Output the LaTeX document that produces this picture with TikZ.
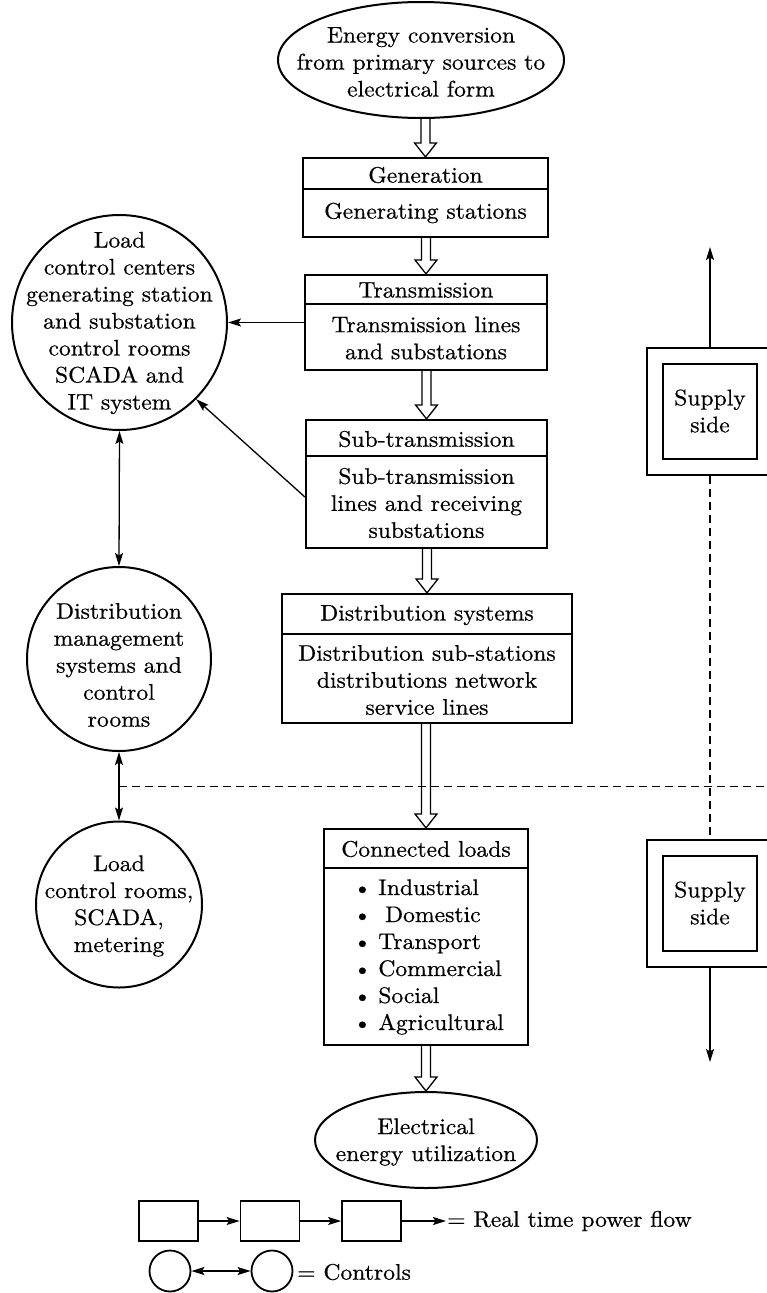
\documentclass[tikz,border=0pt]{standalone}
\usepackage{fontspec}
\setmainfont{lmroman10-regular}[Extension=.otf, FakeStretch=1.05, FakeBold=0.6]
\usetikzlibrary{shapes.geometric,arrows.meta,calc}

% open double-line arrow pointing down from #1 to #2
\newcommand\hollowflow[2]{%
  \draw[hollow] ($(#1)+(-4.5,0)$) -- ($(#2)+(-4.5,-14)$) -- ($(#2)+(-11,-14)$)
    -- (#2) -- ($(#2)+(11,-14)$) -- ($(#2)+(4.5,-14)$) -- ($(#1)+(4.5,0)$);}

\begin{document}
\begin{tikzpicture}[x=1pt, y=-1pt,
  txt/.style={inner sep=0pt, align=center, font=\fontsize{22.5}{27}\selectfont},
  blk/.style={draw, line width=2.2pt, inner sep=0pt, rectangle},
  div/.style={line width=1.3pt},
  hollow/.style={line width=1.3pt, line join=miter},
  ctl/.style={draw, circle, line width=2pt, inner sep=0pt},
  oval/.style={draw, ellipse, line width=2pt, inner sep=0pt},
  tip/.style={},
  link/.style={line width=1.3pt, -{Stealth[length=13pt,width=8pt,inset=2.5pt]}},
  both/.style={line width=1.3pt, {Stealth[length=13pt,width=8pt,inset=2.5pt]}-{Stealth[length=13pt,width=8pt,inset=2.5pt]}},
  dashline/.style={dash pattern=on 8pt off 5pt, line width=1.3pt},
  supout/.style={draw, line width=1.3pt, inner sep=0pt, minimum width=126pt, minimum height=127pt},
  supin/.style={draw, line width=2.5pt, inner sep=0pt, minimum width=94pt, minimum height=95pt},
  legbox/.style={draw, line width=1.8pt, inner sep=0pt, minimum width=59pt, minimum height=40pt},
  legdot/.style={draw, circle, line width=1.8pt, inner sep=0pt, minimum size=41pt}]

\fill[white] (0,0) rectangle (767,1293);
\useasboundingbox (0,0) rectangle (767,1293);
\clip (0,0) rectangle (767,1293);

% ---------- main power-flow chain ----------
\node[oval, minimum width=286pt, minimum height=116pt] (src) at (421,60) {};
\node[txt] (srct) at (421,62) {Energy conversion\\from primary sources to\\electrical form};

\node[blk, minimum width=245pt, minimum height=79pt] (gen) at (425.5,197.5) {};
\draw[div] ($(gen.north west)+(0,32)$) -- ($(gen.north east)+(0,32)$);
\node[txt] (genh) at (425.5,175) {Generation};
\node[txt] (genb) at (425.5,213) {Generating stations};

\node[blk, minimum width=242pt, minimum height=95pt] (trn) at (426,322.5) {};
\draw[div] ($(trn.north west)+(0,30)$) -- ($(trn.north east)+(0,30)$);
\node[txt] (trnh) at (426,290) {Transmission};
\node[txt] (trnb) at (426,338) {Transmission lines\\and substations};

\node[blk, minimum width=241pt, minimum height=128pt] (sub) at (426.5,484) {};
\draw[div] ($(sub.north west)+(0,37)$) -- ($(sub.north east)+(0,37)$);
\node[txt] (subh) at (426.5,439) {Sub-transmission};
\node[txt] (subb) at (426.5,503) {Sub-transmission\\lines and receiving\\substations};

\node[blk, minimum width=290pt, minimum height=129pt] (dst) at (427,658.5) {};
\draw[div] ($(dst.north west)+(0,41)$) -- ($(dst.north east)+(0,41)$);
\node[txt] (dsth) at (427,615) {Distribution systems};
\node[txt] (dstb) at (427,680) {Distribution sub-stations\\distributions network\\service lines};

\node[blk, minimum width=204pt, minimum height=216pt] (cl) at (426,937) {};
\draw[div] ($(cl.north west)+(0,40)$) -- ($(cl.north east)+(0,40)$);
\node[txt] (clh) at (426,849) {Connected loads};
\node[txt, align=left, anchor=west] (cll) at (353,957) {%
  \textbullet\hspace{0.3em}Industrial\\
  \textbullet\hspace{0.6em}Domestic\\
  \textbullet\hspace{0.3em}Transport\\
  \textbullet\hspace{0.3em}Commercial\\
  \textbullet\hspace{0.3em}Social\\
  \textbullet\hspace{0.3em}Agricultural};

\node[oval, minimum width=222pt, minimum height=96pt] (use) at (426,1140) {};
\node[txt] (uset) at (426,1142) {Electrical\\energy utilization};

\hollowflow{gen.north |- src.south}{gen.north}
\hollowflow{trn.north |- gen.south}{trn.north}
\hollowflow{sub.north |- trn.south}{sub.north}
\hollowflow{dst.north |- sub.south}{dst.north}
\hollowflow{cl.north |- dst.south}{cl.north}
\hollowflow{use.north |- cl.south}{use.north}

% ---------- control centres ----------
\node[ctl, minimum size=215pt] (lcc) at (119.5,322.5) {};
\node[txt] (lcct) at (119.5,323) {Load\\control centers\\generating station\\and substation\\control rooms\\SCADA and\\IT system};

\node[ctl, minimum size=184pt] (dms) at (119,659) {};
\node[txt] (dmst) at (119,665) {Distribution\\management\\systems and\\control\\rooms};

\node[ctl, minimum size=166pt] (lcr) at (119,904.5) {};
\node[txt] (lcrt) at (119,906) {Load\\control rooms,\\SCADA,\\metering};

\draw[link] (trn.west) -- (lcc.east);
\draw[link] ($(sub.west)+(0,13)$) -- (lcc.-45);
\draw[both] (lcc.south) -- (dms.north);
\draw[both] (dms.south) -- (lcr.north);

% supply / demand boundary
\coordinate (split) at ($(dms.south)!0.5!(lcr.north)$);
\coordinate (rim) at (775,0);
\draw[dashline] (split) -- (split -| rim);

% ---------- supply side markers ----------
\node[supout] (sup1o) at (710,411.5) {};
\node[supin] (sup1i) at (710,411.5) {};
\node[txt] (sup1t) at (710,411) {Supply\\side};

\node[supout] (sup2o) at (710,903.5) {};
\node[supin] (sup2i) at (710,903.5) {};
\node[txt] (sup2t) at (710,903) {Supply\\side};

\coordinate (s1up) at (710,247);
\coordinate (s2dn) at (710,1062);
\draw[link] (sup1o.north) -- (s1up);
\draw[link] (sup2o.south) -- (s2dn);
\draw[dashline] (sup1o.south) -- (sup2o.north);

% ---------- legend ----------
\node[legbox] (lg1) at (168.5,1221) {};
\node[legbox] (lg2) at (270,1221) {};
\node[legbox] (lg3) at (371.5,1221) {};
\coordinate (lgend) at (446,1221);
\draw[link] (lg1) -- (lg2);
\draw[link] (lg2) -- (lg3);
\draw[link] (lg3.east) -- (lgend);
\node[txt, anchor=west] (lgt1) at (447,1221) {= Real time power flow};

\node[legdot] (lc1) at (170,1271) {};
\node[legdot] (lc2) at (272,1271) {};
\draw[both] (lc1) -- (lc2);
\node[txt, anchor=west] (lgt2) at (297,1272) {= Controls};
\end{tikzpicture}
\end{document}
